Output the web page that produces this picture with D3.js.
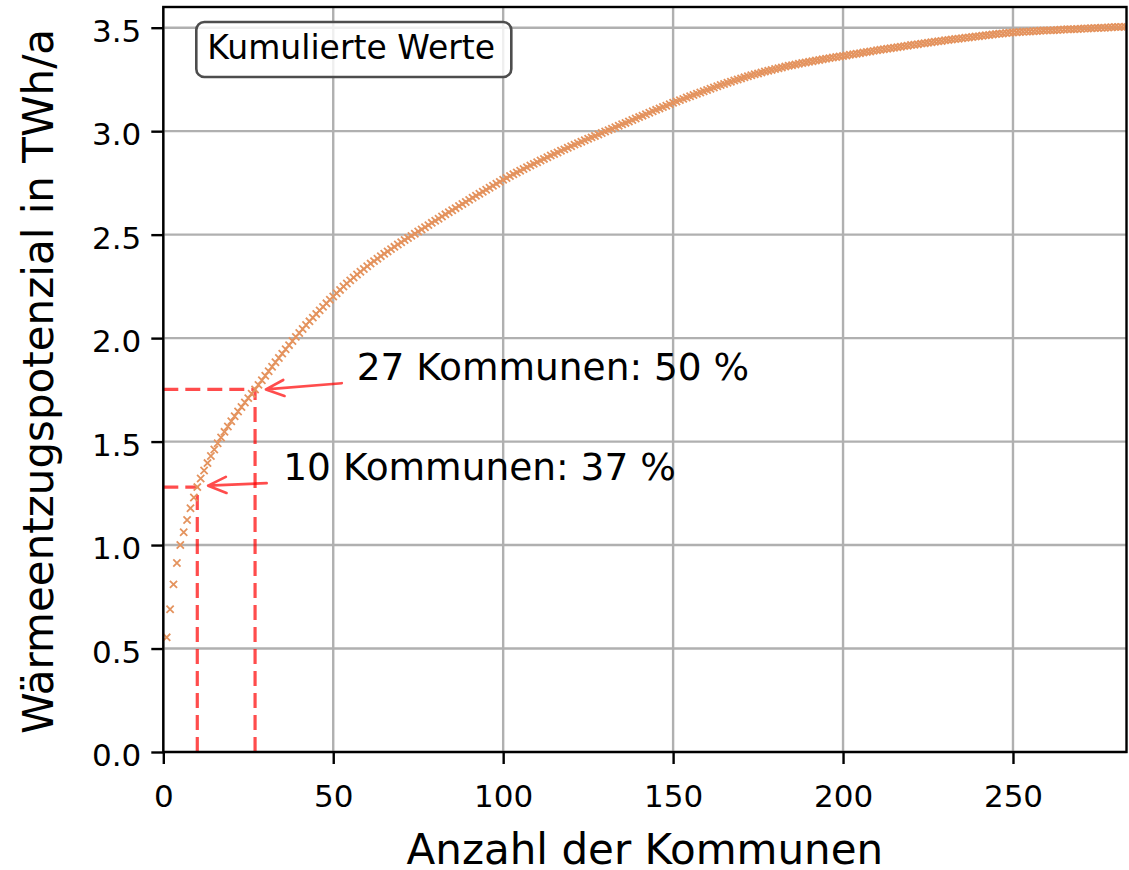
<!DOCTYPE html>
<html><head><meta charset="utf-8">
<script src="https://cdn.jsdelivr.net/npm/d3@7"></script>
<style>
body{margin:0;background:#fff}
svg{display:block}
text{font-family:"DejaVu Sans",sans-serif;fill:#000}
</style>
</head><body><svg id="c" width="1129" height="870"></svg>
<script>
// Cumulative heat extraction potential (TWh/a) for communes 1..N, sorted descending
const cumulativeTWh = [
0.554,0.690,0.810,0.913,1.000,1.062,1.121,1.178,1.230,1.280,
1.322,1.360,1.396,1.430,1.462,1.492,
1.520,1.547,1.573,1.598,1.622,1.645,1.667,1.689,1.710,1.731,1.752,
1.774,1.796,1.818,1.840,1.862,1.883,1.904,1.925,1.946,1.966,1.986,2.006,2.025,2.044,2.063,2.081,2.099,2.117,2.134,2.151,2.168,2.185,2.201,
2.217,2.233,2.249,2.264,2.279,2.293,2.307,2.321,2.334,2.347,2.360,
2.372,2.384,2.396,2.408,2.419,2.430,2.441,2.452,2.463,2.474,2.484,2.494,2.504,
2.515,2.525,2.536,2.546,2.557,2.567,2.577,2.588,2.598,2.608,2.618,2.628,2.638,2.648,2.658,2.668,2.678,2.688,2.698,2.707,2.717,2.727,2.736,2.746,2.755,2.765,
2.774,2.783,2.792,2.800,2.809,2.817,2.826,2.834,2.842,2.850,2.858,2.866,2.874,2.882,2.890,2.897,2.905,2.912,2.920,2.927,2.935,2.942,2.949,2.956,2.963,2.970,2.977,2.984,2.991,2.998,3.005,3.012,
3.019,3.026,3.033,3.040,3.047,3.054,3.061,3.068,3.075,3.082,3.089,3.096,3.103,3.110,3.117,3.123,3.130,3.137,
3.143,3.150,3.156,3.163,3.169,3.175,3.181,3.187,3.193,3.199,3.205,3.211,3.217,3.223,3.228,3.234,3.239,3.245,
3.250,3.255,3.260,3.265,3.270,3.275,3.279,3.284,3.288,3.292,3.296,3.300,3.304,3.308,3.312,3.316,3.319,3.322,3.326,3.329,3.332,3.335,3.338,3.341,3.344,3.347,3.350,3.353,3.356,3.358,3.361,3.363,
3.366,3.369,3.372,3.374,3.377,3.380,3.383,3.385,3.388,3.391,3.393,3.396,3.398,3.401,3.403,3.406,3.408,3.411,3.413,3.416,3.418,3.420,3.423,3.425,3.427,3.430,3.432,3.434,3.436,3.439,3.441,3.443,3.445,3.447,3.449,3.451,3.453,3.455,3.457,3.459,3.461,3.463,3.465,3.467,3.469,3.471,3.472,3.474,3.476,3.477,
3.478,3.479,3.480,3.481,3.482,3.483,3.484,3.485,3.486,3.487,3.487,3.488,3.489,3.490,3.491,3.492,3.492,3.493,3.494,3.495,3.496,3.496,3.497,3.498,3.499,3.500,3.500,3.501,3.502,3.503,3.503,3.504,3.505
];
const xTicks = [0, 50, 100, 150, 200, 250];
const yTicks = [0.0, 0.5, 1.0, 1.5, 2.0, 2.5, 3.0, 3.5];
const xDomain = [0, 283.4];
const yDomain = [0, 3.6];
const xLabel = "Anzahl der Kommunen";
const yLabel = "Wärmeentzugspotenzial in TWh/a";
const boxLabel = "Kumulierte Werte";
const highlightN = [10, 27];
const annotTexts = ["10 Kommunen: 37 %", "27 Kommunen: 50 %"];
const annotTextPos = [[35.3, 1.315], [56.9, 1.800]];
const arrowTail = [[30.4, 1.299], [52.5, 1.782]];
const arrowTip = [[13.2, 1.287], [30.2, 1.752]];

const L = 163.3, R = 1126.5, T = 7, B = 752;
const svg = d3.select("#c");
const x = d3.scaleLinear().domain(xDomain).range([L, R]);
const y = d3.scaleLinear().domain(yDomain).range([B, T]);
const points = cumulativeTWh.map((v, i) => ({n: i + 1, v}));

// grid
const grid = svg.append("g");
grid.selectAll(".gx").data(xTicks).join("line")
  .attr("x1", d => x(d)).attr("x2", d => x(d)).attr("y1", T).attr("y2", B)
  .attr("stroke", "#b0b0b0").attr("stroke-width", 2.4);
grid.selectAll(".gy").data(yTicks).join("line")
  .attr("x1", L).attr("x2", R).attr("y1", d => y(d)).attr("y2", d => y(d))
  .attr("stroke", "#b0b0b0").attr("stroke-width", 2.4);

svg.append("clipPath").attr("id", "clip").append("rect")
  .attr("x", L).attr("y", T).attr("width", R - L).attr("height", B - T);

// dashed reference lines
const red = "rgba(255,0,0,0.7)";
const dl = svg.append("g").attr("clip-path", "url(#clip)");
highlightN.forEach(n => {
  const v = cumulativeTWh[n - 1];
  dl.append("line").attr("x1", x(n)).attr("x2", x(n)).attr("y1", y(0)).attr("y2", y(v))
    .attr("stroke", red).attr("stroke-width", 3.2).attr("stroke-dasharray", "15 7");
  dl.append("line").attr("x1", x(0)).attr("x2", x(n)).attr("y1", y(v)).attr("y2", y(v))
    .attr("stroke", red).attr("stroke-width", 3.2).attr("stroke-dasharray", "15 7");
});

// markers
const s = 3.6;
const mk = svg.append("g").attr("clip-path", "url(#clip)");
mk.selectAll("path").data(points).join("path")
  .attr("d", d => {
    const cx = x(d.n), cy = y(d.v);
    return `M${cx - s},${cy - s}L${cx + s},${cy + s}M${cx - s},${cy + s}L${cx + s},${cy - s}`;
  })
  .attr("stroke", "#e4935e").attr("stroke-width", 1.8).attr("fill", "none");

// axes
const xAxis = svg.append("g").attr("transform", `translate(0,${B})`)
  .call(d3.axisBottom(x).tickValues(xTicks).tickSize(12).tickPadding(21).tickFormat(d3.format("d")));
const yAxis = svg.append("g").attr("transform", `translate(${L},0)`)
  .call(d3.axisLeft(y).tickValues(yTicks).tickSize(12).tickPadding(10).tickFormat(d3.format(".1f")));
[xAxis, yAxis].forEach(a => {
  a.select(".domain").remove();
  a.selectAll(".tick line").attr("stroke", "#000").attr("stroke-width", 2.4);
  a.selectAll(".tick text").attr("font-size", 31).attr("font-family", "DejaVu Sans").attr("fill", "#000");
});
yAxis.selectAll(".tick text").attr("dy", "0.44em");

// frame
svg.append("rect").attr("x", L).attr("y", T).attr("width", R - L).attr("height", B - T)
  .attr("fill", "none").attr("stroke", "#000").attr("stroke-width", 2.4);

// annotations
annotTexts.forEach((t, i) => {
  const [tx, ty] = arrowTail[i], [hx, hy] = arrowTip[i];
  const x1 = x(tx), y1 = y(ty), x2 = x(hx), y2 = y(hy);
  const ang = Math.atan2(y2 - y1, x2 - x1);
  const hl = 18, hw = 8;
  const bx = x2 - hl * Math.cos(ang), by = y2 - hl * Math.sin(ang);
  const px = -Math.sin(ang) * hw, py = Math.cos(ang) * hw;
  svg.append("path")
    .attr("d", `M${x1},${y1}L${x2},${y2}M${bx + px},${by + py}L${x2},${y2}L${bx - px},${by - py}`)
    .attr("stroke", red).attr("stroke-width", 2.7).attr("fill", "none")
    .attr("stroke-linecap", "round").attr("stroke-linejoin", "round");
  svg.append("text").attr("x", x(annotTextPos[i][0])).attr("y", y(annotTextPos[i][1]))
    .attr("font-size", 37.5).text(t);
});

// box label
svg.append("rect").attr("x", L + 33).attr("y", T + 15).attr("width", 315).attr("height", 55)
  .attr("rx", 8).attr("fill", "rgba(255,255,255,0.8)").attr("stroke", "#4d4d4d").attr("stroke-width", 2.6);
svg.append("text").attr("x", L + 44).attr("y", T + 51.5).attr("font-size", 33).text(boxLabel);

// axis labels
svg.append("text").attr("x", (L + R) / 2).attr("y", 864).attr("text-anchor", "middle")
  .attr("font-size", 42).text(xLabel);
svg.append("text").attr("transform", `translate(53,${(T + B) / 2 + 2}) rotate(-90)`)
  .attr("text-anchor", "middle").attr("font-size", 42).text(yLabel);
</script>
</body></html>
